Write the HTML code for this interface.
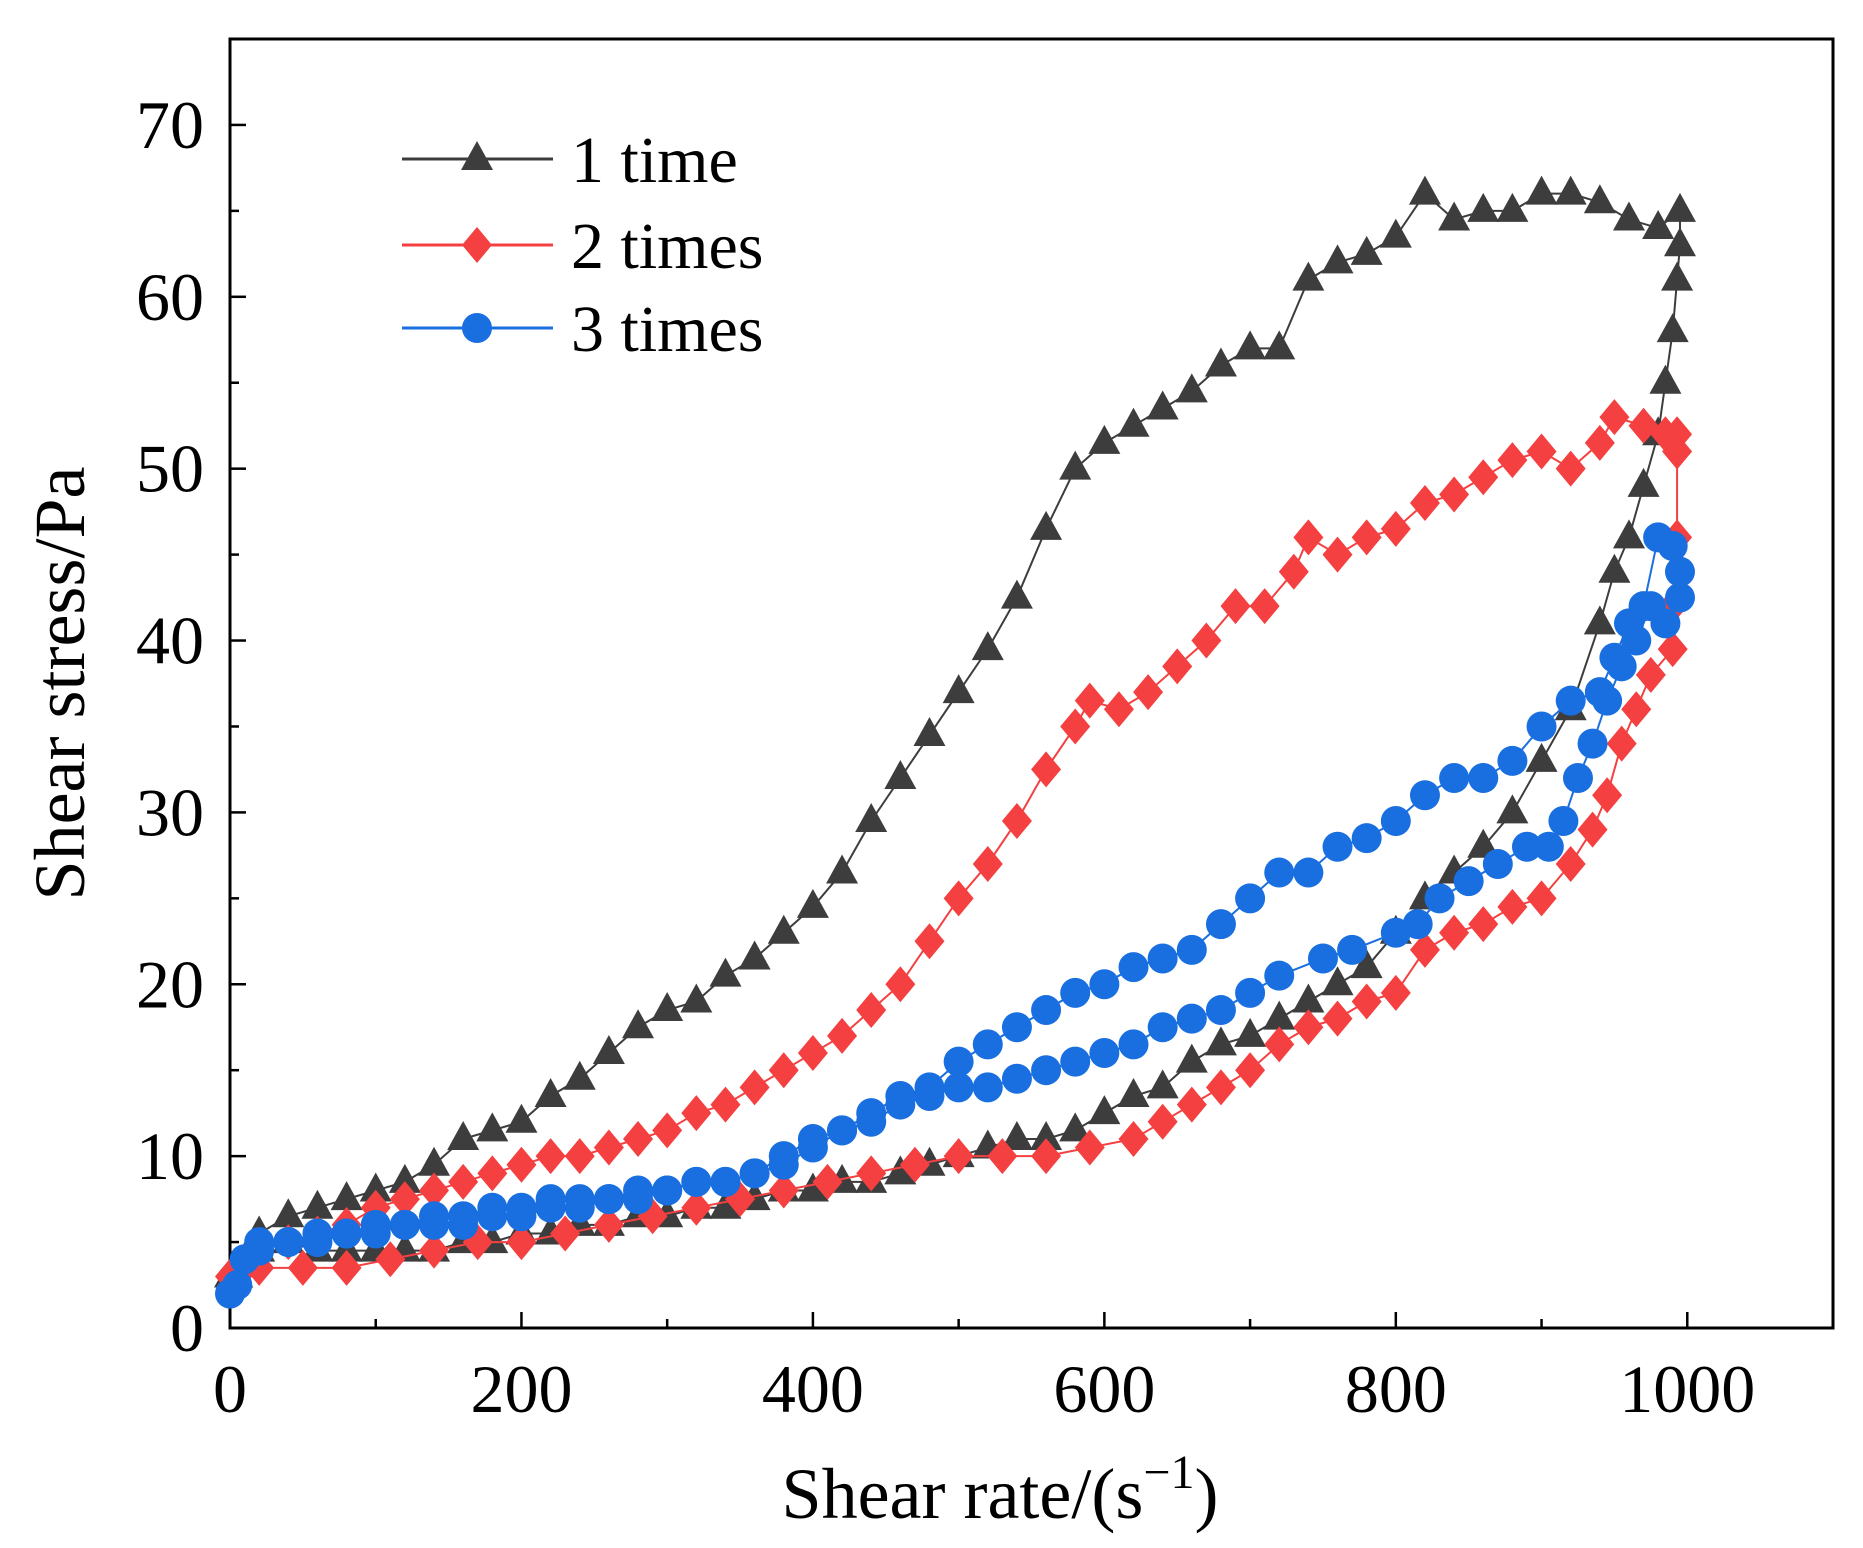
<!DOCTYPE html>
<html><head><meta charset="utf-8"><style>
html,body{margin:0;padding:0;background:#fff;}
svg{display:block;font-family:"Liberation Serif",serif;}
</style></head><body>
<svg id="chart" width="1863" height="1548" viewBox="0 0 1863 1548"></svg>
<script>
const xTicks=[0,200,400,600,800,1000];
const yTicks=[0,10,20,30,40,50,60,70];
const s1x=[0,20,40,60,80,100,120,140,160,180,200,220,240,260,280,300,320,340,360,380,400,420,440,460,480,500,520,540,560,580,600,620,640,660,680,700,720,740,760,780,800,820,840,860,880,900,920,940,960,980,995,995,993,990,985,980,970,960,950,940,920,900,880,860,840,820,800,780,760,740,720,700,680,660,640,620,600,580,560,540,520,500,480,460,440,420,400,380,360,340,320,300,280,260,240,220,200,180,160,140,120,100,80,60,40,20,5];
const s1y=[3,5.5,6.5,7,7.5,8,8.5,9.5,11,11.5,12,13.5,14.5,16,17.5,18.5,19,20.5,21.5,23,24.5,26.5,29.5,32,34.5,37,39.5,42.5,46.5,50,51.5,52.5,53.5,54.5,56,57,57,61,62,62.5,63.5,66,64.5,65,65,66,66,65.5,64.5,64,65,63,61,58,55,52,49,46,44,41,36,33,30,28,26.5,25,23,21,20,19,18,17,16.5,15.5,14,13.5,12.5,11.5,11,11,10.5,10,9.5,9,8.5,8.5,8,8,7.5,7,7,6.5,6.5,6,6,5.5,5.5,5,5,4.5,4.5,4.5,4.5,4.5,5,4.5,3];
const s2x=[0,20,40,60,80,100,120,140,160,180,200,220,240,260,280,300,320,340,360,380,400,420,440,460,480,500,520,540,560,580,590,610,630,650,670,690,710,730,740,760,780,800,820,840,860,880,900,920,940,950,970,985,993,993,993,990,990,975,965,955,945,935,920,900,880,860,840,820,800,780,760,740,720,700,680,660,640,620,590,560,530,500,470,440,410,380,350,320,290,260,230,200,170,140,110,80,50,20,5];
const s2y=[3,4.5,5,5.5,6,7,7.5,8,8.5,9,9.5,10,10,10.5,11,11.5,12.5,13,14,15,16,17,18.5,20,22.5,25,27,29.5,32.5,35,36.5,36,37,38.5,40,42,42,44,46,45,46,46.5,48,48.5,49.5,50.5,51,50,51.5,53,52.5,52,52,51,46,42,39.5,38,36,34,31,29,27,25,24.5,23.5,23,22,19.5,19,18,17.5,16.5,15,14,13,12,11,10.5,10,10,10,9.5,9,8.5,8,7.5,7,6.5,6,5.5,5,5,4.5,4,3.5,3.5,3.5,3];
const s3x=[0,10,20,40,60,80,100,120,140,160,180,200,220,240,260,280,300,320,340,360,380,400,420,440,460,480,500,520,540,560,580,600,620,640,660,680,700,720,740,760,780,800,820,840,860,880,900,920,940,950,960,970,980,990,995,995,985,975,965,955,945,935,925,915,905,890,870,850,830,815,800,770,750,720,700,680,660,640,620,600,580,560,540,520,500,480,460,440,420,400,380,360,340,320,300,280,260,240,220,200,180,160,140,120,100,80,60,40,20,5];
const s3y=[2,4,5,5,5.5,5.5,6,6,6.5,6.5,7,7,7.5,7.5,7.5,8,8,8.5,8.5,9,10,11,11.5,12.5,13.5,14,15.5,16.5,17.5,18.5,19.5,20,21,21.5,22,23.5,25,26.5,26.5,28,28.5,29.5,31,32,32,33,35,36.5,37,39,41,42,46,45.5,44,42.5,41,42,40,38.5,36.5,34,32,29.5,28,28,27,26,25,23.5,23,22,21.5,20.5,19.5,18.5,18,17.5,16.5,16,15.5,15,14.5,14,14,13.5,13,12,11.5,10.5,9.5,9,8.5,8.5,8,7.5,7.5,7,7,6.5,6.5,6,6,6,5.5,5.5,5,5,4.5,2.5];

const NS="http://www.w3.org/2000/svg";
const svg=document.getElementById('chart');
const L=230,R=1833,T=39,B=1328;
const X=v=>L+(v/1100)*(R-L);
const Y=v=>B-(v/75)*(B-T);
function mk(tag,attrs,parent){const e=document.createElementNS(NS,tag);for(const k in attrs)e.setAttribute(k,attrs[k]);(parent||svg).appendChild(e);return e;}

const frame=mk('rect',{x:L,y:T,width:R-L,height:B-T,fill:'none',stroke:'#000','stroke-width':3});



for(let v=0;v<=1100;v+=100){
  const len=(v%200===0)?16:9;
  const t=mk('line',{x1:X(v),x2:X(v),y1:B,y2:B-len,stroke:'#000','stroke-width':2.5});
  
  
}
xTicks.forEach(v=>{
  const t=mk('text',{x:X(v),y:B+84,'text-anchor':'middle','font-size':68,fill:'#000'});
  t.textContent=v;
  
  
});
for(let v=0;v<=75;v+=5){
  const len=(v%10===0)?16:9;
  const t=mk('line',{x1:L,x2:L+len,y1:Y(v),y2:Y(v),stroke:'#000','stroke-width':2.5});
  
  
}
yTicks.forEach(v=>{
  const t=mk('text',{x:L-26,y:Y(v)+23,'text-anchor':'end','font-size':68,fill:'#000'});
  t.textContent=v;
  
  
});
const xt=mk('text',{x:1000,y:1518,'text-anchor':'middle','font-size':72,fill:'#000'});
xt.innerHTML='Shear rate/(s<tspan font-size="48" dy="-30">−1</tspan><tspan dy="30">)</tspan>';


const yt=mk('text',{x:0,y:0,'text-anchor':'middle','font-size':72,fill:'#000',transform:`translate(84,${(T+B)/2}) rotate(-90)`});
yt.textContent='Shear stress/Pa';



function marker(g,type,cx,cy,color){
  let e;
  if(type==='tri') e=mk('polygon',{points:`${cx},${cy-18} ${cx-16},${cy+11} ${cx+16},${cy+11}`,fill:color},g);
  else if(type==='dia') e=mk('polygon',{points:`${cx},${cy-18} ${cx+15},${cy} ${cx},${cy+18} ${cx-15},${cy}`,fill:color},g);
  else e=mk('circle',{cx:cx,cy:cy,r:15,fill:color},g);
  return e;
}
function series(xs,ys,color,type,name){
  const g=mk('g',{});
  
  
  const pts=xs.map((v,i)=>X(v)+','+Y(ys[i])).join(' ');
  const pl=mk('polyline',{points:pts,fill:'none',stroke:color,'stroke-width':2},g);
  
  
  xs.forEach((v,i)=>{
    const m=marker(g,type,X(v),Y(ys[i]),color);
    
    
  });
}
series(s1x,s1y,'#3d3d3d','tri','series-1-time');
series(s2x,s2y,'#f44040','dia','series-2-times');
series(s3x,s3y,'#1a6fe0','dot','series-3-times');

const leg=[['1 time','#3d3d3d','tri',159],['2 times','#f44040','dia',245],['3 times','#1a6fe0','dot',328]];
leg.forEach(([lab,c,tp,y])=>{
  const g=mk('g',{});
  
  
  mk('line',{x1:402,x2:553,y1:y,y2:y,stroke:c,'stroke-width':3},g);
  marker(g,tp,477,y,c);
  const t=mk('text',{x:571,y:y+23,'font-size':66,fill:'#000'},g);
  t.textContent=lab;
});
</script>
</body></html>
